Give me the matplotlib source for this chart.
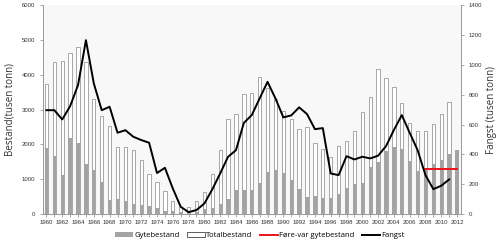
import numpy as np
import matplotlib
matplotlib.use("Agg")
import matplotlib.pyplot as plt
from matplotlib.patches import Patch
from matplotlib.lines import Line2D

# Data (tusen tonn), 1960-2012
years = np.arange(1960, 2013)

totalbestand = [3740, 4370, 4390, 4630, 4790, 4370, 3310, 2810, 2520, 1915,
                1915, 1840, 1540, 1160, 910, 670, 364, 190, 210, 383,
                620, 1160, 1830, 2720, 2860, 3460, 3470, 3930, 3610, 3300,
                2970, 2720, 2430, 2510, 2030, 1860, 1630, 1950, 2090, 2390,
                2920, 3350, 4160, 3920, 3640, 3180, 2620, 2390, 2390, 2600,
                2860, 3210, np.nan]

gytebestand = [1890, 1670, 1120, 2190, 2030, 1440, 1280, 910, 400, 420,
               370, 280, 270, 230, 163, 96, 77, 48, 20, 60,
               140, 180, 280, 420, 680, 690, 690, 900, 1200, 1260,
               1190, 980, 710, 500, 520, 470, 470, 575, 757, 862,
               880, 1340, 1500, 1810, 1920, 1860, 1520, 1240, 1270, 1430,
               1550, 1720, 1850]

fangst_years = np.arange(1960, 2012)
fangst = [696, 696, 634, 723, 864, 1165, 875, 696, 719, 545,
          562, 518, 496, 478, 275, 310, 172, 49, 13, 27,
          71, 165, 272, 384, 428, 611, 663, 775, 886, 775,
          648, 661, 715, 670, 569, 576, 272, 261, 388, 366,
          384, 373, 391, 455, 563, 663, 545, 429, 261, 167,
          190, 232]

forevar_years = [2008, 2012]
forevar = [1300, 1300]

tick_years = np.arange(1960, 2013, 2)

tick_font = 'Liberation Sans'
label_font = 'Open Sans'

fig = plt.figure(figsize=(5.0, 2.43), dpi=100)
ax = fig.add_axes([0.085, 0.119, 0.837, 0.860])
ax.set_facecolor('#f8f8f8')

bw = 0.42
ax.bar(years, totalbestand, width=bw, color='white', edgecolor='#9a9a9a', linewidth=0.6, zorder=2)
ax.bar(years, gytebestand, width=bw, color='#a3a3a3', edgecolor='none', zorder=3)
ax.plot(forevar_years, forevar, color='#e8141b', linewidth=1.4, zorder=4)

ax.set_xlim(1959.5, 2012.5)
ax.set_ylim(0, 6000)
ax.set_yticks(np.arange(0, 6001, 1000))
ax.set_xticks(tick_years)
ax.set_xticks(years, minor=True)
ax.tick_params(axis='both', labelsize=4.3, colors='#333333', length=2, width=0.5)
ax.tick_params(axis='x', which='minor', length=2, width=0.5, color='#888888')
ax.tick_params(axis='x', which='major', color='#888888', pad=2.5)
ax.tick_params(axis='y', color='#888888')
ax.set_ylabel('Bestand(tusen tonn)', fontsize=7, color='#333333', labelpad=4,
              family=label_font)

ax2 = ax.twinx()
ax2.plot(fangst_years, fangst, color='black', linewidth=1.4, zorder=5)
ax2.set_ylim(0, 1400)
ax2.set_yticks(np.arange(0, 1401, 200))
ax2.tick_params(axis='y', labelsize=4.3, colors='#333333', length=2, width=0.5)
ax2.tick_params(axis='y', color='#888888')
ax2.set_ylabel('Fangst (tusen tonn)', fontsize=7, color='#333333', labelpad=3,
               family=label_font)

for a in (ax, ax2):
    a.spines['top'].set_visible(False)
    for s in ('left', 'right', 'bottom'):
        a.spines[s].set_color('#999999')
        a.spines[s].set_linewidth(0.6)
    for lab in a.get_xticklabels() + a.get_yticklabels():
        lab.set_family(tick_font)

handles = [
    Patch(facecolor='#a3a3a3', edgecolor='none', label='Gytebestand'),
    Patch(facecolor='white', edgecolor='#444444', linewidth=0.6, label='Totalbestand'),
    Line2D([0], [0], color='#e8141b', linewidth=1.4, label='Føre-var gytebestand'),
    Line2D([0], [0], color='black', linewidth=1.4, label='Fangst'),
]
fig.legend(handles=handles, loc='center', bbox_to_anchor=(0.52, 0.03), ncol=4,
           frameon=False, prop={'family': label_font, 'size': 5.5},
           handlelength=2.3, handleheight=0.6, columnspacing=1.0, handletextpad=0.2)

fig.savefig('out.png', dpi=100)
